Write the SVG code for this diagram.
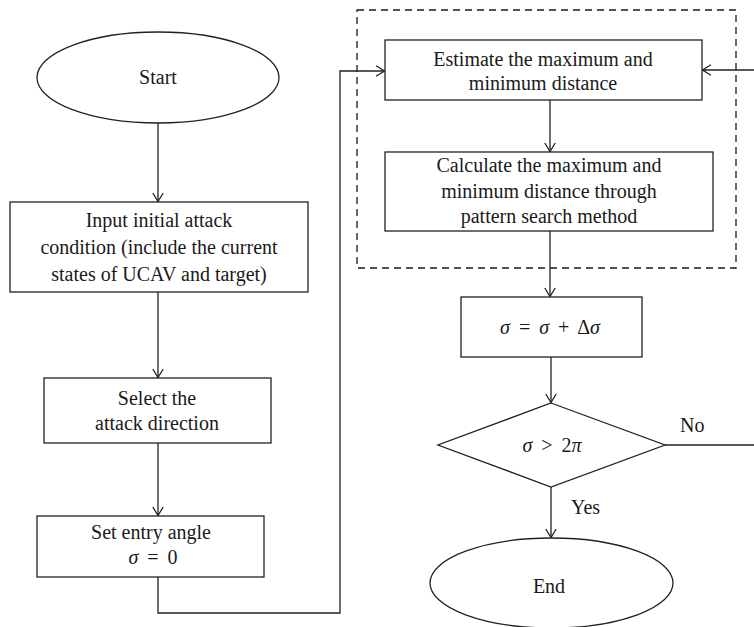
<svg xmlns="http://www.w3.org/2000/svg" width="754" height="627" viewBox="0 0 754 627">
  <style>
    .shape { fill: #ffffff; stroke: #222222; stroke-width: 1.3; }
    .line { fill: none; stroke: #222222; stroke-width: 1.3; }
    .dash { fill: none; stroke: #1a1a1a; stroke-width: 1.3; stroke-dasharray: 7 5; }
    text { font-family: "Liberation Serif", "DejaVu Serif", serif; font-size: 20px; fill: #1a1a1a; text-anchor: middle; }
    .it { font-style: italic; }
    .math { word-spacing: 4px; }
    .lbl { text-anchor: start; }
  </style>
  <defs>
    <marker id="arrow" viewBox="0 0 10 12" refX="9.5" refY="6" markerWidth="10" markerHeight="12" markerUnits="userSpaceOnUse" orient="auto">
      <path d="M1,0.8 L9.5,6 L1,11.2" fill="none" stroke="#222222" stroke-width="1.3"/>
    </marker>
  </defs>

  <!-- dashed grouping frame around the distance estimation steps -->
  <rect id="group-frame" class="dash" x="357" y="10" width="379" height="258"/>

  <g id="connectors">
    <path class="line" d="M158,123 V201.5" marker-end="url(#arrow)"/>
    <path class="line" d="M158,292 V377.5" marker-end="url(#arrow)"/>
    <path class="line" d="M158,443 V515.5" marker-end="url(#arrow)"/>
    <path class="line" d="M158,577 V613 H340 V71 H384.5" marker-end="url(#arrow)"/>
    <path class="line" d="M550,100 V151.5" marker-end="url(#arrow)"/>
    <path class="line" d="M550,231 V296.5" marker-end="url(#arrow)"/>
    <path class="line" d="M551,357 V402.5" marker-end="url(#arrow)"/>
    <path class="line" d="M551,487 V537.5" marker-end="url(#arrow)"/>
    <path class="line" d="M665,445 H758 V70 H702.5" marker-end="url(#arrow)"/>
    <text class="lbl" x="680" y="432">No</text>
    <text class="lbl" x="571" y="514">Yes</text>
  </g>

  <g id="start">
    <ellipse class="shape" cx="158" cy="77.5" rx="121" ry="45.5"/>
    <text x="158" y="84">Start</text>
  </g>

  <g id="input">
    <rect class="shape" x="10" y="202" width="298" height="90"/>
    <text x="159" y="227">Input initial attack</text>
    <text x="159" y="254">condition (include the current</text>
    <text x="159" y="281">states of UCAV and target)</text>
  </g>

  <g id="select">
    <rect class="shape" x="44" y="378" width="227" height="65"/>
    <text x="157" y="405">Select the</text>
    <text x="157" y="430">attack direction</text>
  </g>

  <g id="entry">
    <rect class="shape" x="37" y="516" width="227" height="61"/>
    <text x="151" y="539">Set entry angle</text>
    <text class="math" x="153" y="564"><tspan class="it">σ</tspan> = 0</text>
  </g>

  <g id="estimate">
    <rect class="shape" x="385" y="40" width="317" height="60"/>
    <text x="543" y="66">Estimate the maximum and</text>
    <text x="543" y="90">minimum distance</text>
  </g>

  <g id="calculate">
    <rect class="shape" x="385" y="152" width="328" height="79"/>
    <text x="549" y="172">Calculate the maximum and</text>
    <text x="549" y="198">minimum distance through</text>
    <text x="549" y="223">pattern search method</text>
  </g>

  <g id="increment">
    <rect class="shape" x="461" y="297" width="181" height="60"/>
    <text class="math" x="550" y="334"><tspan class="it">σ</tspan> = <tspan class="it">σ</tspan> + Δ<tspan class="it">σ</tspan></text>
  </g>

  <g id="decision">
    <polygon class="shape" points="551,403 665,445 551,487 438,445"/>
    <text class="math" x="552" y="452"><tspan class="it">σ</tspan> &gt; 2<tspan class="it">π</tspan></text>
  </g>

  <g id="end">
    <ellipse class="shape" cx="551.5" cy="583" rx="121.5" ry="45"/>
    <text x="549" y="593">End</text>
  </g>
</svg>
